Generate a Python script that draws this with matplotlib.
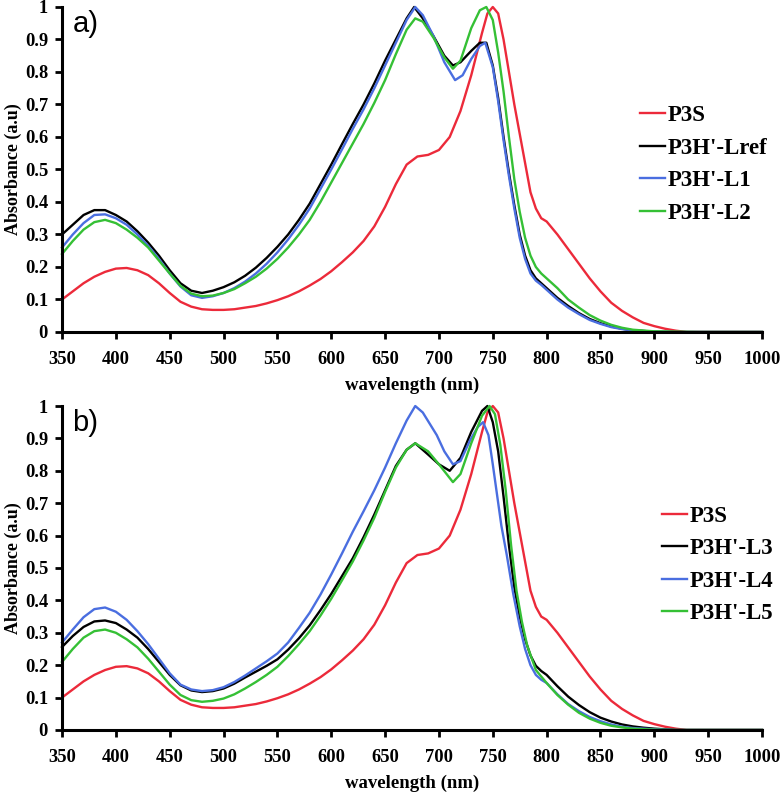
import matplotlib
matplotlib.use('Agg')
import matplotlib.pyplot as plt

plt.rcParams['font.family'] = ['Liberation Serif', 'DejaVu Serif']

# P3S is the same reference film in both panels
p3s = [(350, 0.10), (360, 0.125), (370, 0.15), (380, 0.17), (390, 0.185), (400, 0.195), (410, 0.197),
       (420, 0.19), (430, 0.175), (440, 0.15), (450, 0.12), (460, 0.093), (470, 0.078), (480, 0.07),
       (490, 0.068), (500, 0.068), (510, 0.07), (520, 0.075), (530, 0.08), (540, 0.088), (550, 0.098),
       (560, 0.11), (570, 0.125), (580, 0.143), (590, 0.163), (600, 0.187), (610, 0.215), (620, 0.245),
       (630, 0.28), (640, 0.325), (650, 0.385), (660, 0.455), (670, 0.515), (680, 0.54), (690, 0.545),
       (700, 0.56), (710, 0.60), (720, 0.68), (730, 0.79), (740, 0.92), (745, 0.98), (750, 1.0),
       (755, 0.98), (760, 0.90), (765, 0.80), (770, 0.70), (775, 0.61), (780, 0.52), (785, 0.43),
       (790, 0.38), (795, 0.35), (800, 0.34), (810, 0.30), (820, 0.255), (830, 0.21), (840, 0.165),
       (850, 0.125), (860, 0.09), (870, 0.065), (880, 0.045), (890, 0.028), (900, 0.018), (910, 0.01),
       (920, 0.004), (930, 0.0), (1000, 0.0)]

lref = [(350, 0.30), (360, 0.33), (370, 0.36), (380, 0.375), (390, 0.375), (400, 0.36), (410, 0.34),
        (420, 0.31), (430, 0.275), (440, 0.235), (450, 0.19), (460, 0.15), (470, 0.127), (480, 0.12),
        (490, 0.127), (500, 0.138), (510, 0.153), (520, 0.173), (530, 0.198), (540, 0.228), (550, 0.262),
        (560, 0.30), (570, 0.345), (580, 0.395), (590, 0.455), (600, 0.515), (610, 0.578), (620, 0.64),
        (630, 0.70), (640, 0.765), (650, 0.835), (660, 0.90), (670, 0.965), (677, 1.0), (685, 0.965),
        (695, 0.91), (705, 0.85), (713, 0.82), (720, 0.83), (730, 0.865), (738, 0.89), (744, 0.89),
        (750, 0.82), (755, 0.72), (760, 0.60), (765, 0.49), (770, 0.39), (775, 0.30), (780, 0.235),
        (785, 0.19), (790, 0.165), (795, 0.15), (800, 0.135), (810, 0.105), (820, 0.08), (830, 0.058),
        (840, 0.04), (850, 0.027), (860, 0.017), (870, 0.01), (880, 0.005), (900, 0.001), (920, 0.0),
        (1000, 0.0)]

l1 = [(350, 0.26), (360, 0.30), (370, 0.335), (380, 0.36), (390, 0.362), (400, 0.35), (410, 0.33),
      (420, 0.30), (430, 0.265), (440, 0.225), (450, 0.18), (460, 0.14), (470, 0.113), (480, 0.105),
      (490, 0.11), (500, 0.12), (510, 0.135), (520, 0.155), (530, 0.18), (540, 0.21), (550, 0.245),
      (560, 0.285), (570, 0.33), (580, 0.38), (590, 0.44), (600, 0.50), (610, 0.562), (620, 0.625),
      (630, 0.685), (640, 0.75), (650, 0.82), (660, 0.89), (670, 0.96), (678, 1.0), (685, 0.975),
      (695, 0.91), (705, 0.83), (715, 0.775), (722, 0.79), (730, 0.84), (738, 0.88), (743, 0.89),
      (750, 0.815), (755, 0.71), (760, 0.59), (765, 0.48), (770, 0.38), (775, 0.29), (780, 0.225),
      (785, 0.18), (790, 0.158), (795, 0.145), (800, 0.13), (810, 0.10), (820, 0.075), (830, 0.055),
      (840, 0.037), (850, 0.025), (860, 0.015), (870, 0.009), (880, 0.005), (900, 0.001), (920, 0.0),
      (1000, 0.0)]

l2 = [(350, 0.24), (360, 0.28), (370, 0.315), (380, 0.338), (390, 0.345), (400, 0.335), (410, 0.315),
      (420, 0.29), (430, 0.26), (440, 0.22), (450, 0.18), (460, 0.142), (470, 0.118), (480, 0.11),
      (490, 0.112), (500, 0.12), (510, 0.132), (520, 0.15), (530, 0.17), (540, 0.195), (550, 0.225),
      (560, 0.26), (570, 0.30), (580, 0.345), (590, 0.40), (600, 0.46), (610, 0.52), (620, 0.58),
      (630, 0.64), (640, 0.705), (650, 0.775), (660, 0.855), (670, 0.93), (678, 0.965), (685, 0.955),
      (695, 0.905), (705, 0.845), (713, 0.81), (720, 0.835), (730, 0.935), (738, 0.99), (744, 1.0),
      (750, 0.96), (755, 0.86), (760, 0.74), (765, 0.60), (770, 0.47), (775, 0.37), (780, 0.29),
      (785, 0.235), (790, 0.20), (795, 0.18), (800, 0.165), (810, 0.135), (820, 0.10), (830, 0.075),
      (840, 0.052), (850, 0.035), (860, 0.022), (870, 0.013), (880, 0.007), (900, 0.002), (940, 0.0),
      (1000, 0.0)]

l3 = [(350, 0.256), (360, 0.29), (370, 0.318), (380, 0.335), (390, 0.338), (400, 0.33), (410, 0.31),
      (420, 0.285), (430, 0.25), (440, 0.21), (450, 0.17), (460, 0.138), (470, 0.122), (480, 0.117),
      (490, 0.12), (500, 0.128), (510, 0.143), (520, 0.162), (530, 0.18), (540, 0.198), (550, 0.218),
      (560, 0.248), (570, 0.283), (580, 0.323), (590, 0.37), (600, 0.42), (610, 0.475), (620, 0.53),
      (630, 0.595), (640, 0.665), (650, 0.74), (660, 0.815), (670, 0.865), (678, 0.885), (690, 0.85),
      (700, 0.82), (710, 0.80), (720, 0.84), (730, 0.92), (740, 0.985), (745, 1.0), (750, 0.95),
      (755, 0.86), (760, 0.72), (765, 0.57), (770, 0.44), (775, 0.35), (780, 0.28), (785, 0.23),
      (790, 0.198), (795, 0.182), (800, 0.17), (810, 0.135), (820, 0.103), (830, 0.077), (840, 0.055),
      (850, 0.038), (860, 0.026), (870, 0.017), (880, 0.011), (890, 0.007), (900, 0.004), (920, 0.0),
      (1000, 0.0)]

l4 = [(350, 0.27), (360, 0.31), (370, 0.348), (380, 0.373), (390, 0.378), (400, 0.365), (410, 0.34),
      (420, 0.305), (430, 0.265), (440, 0.22), (450, 0.175), (460, 0.14), (470, 0.125), (480, 0.12),
      (490, 0.123), (500, 0.132), (510, 0.148), (520, 0.168), (530, 0.19), (540, 0.212), (550, 0.236),
      (560, 0.27), (570, 0.315), (580, 0.362), (590, 0.418), (600, 0.48), (610, 0.545), (620, 0.612),
      (630, 0.675), (640, 0.74), (650, 0.81), (660, 0.885), (670, 0.955), (678, 1.0), (685, 0.98),
      (698, 0.91), (705, 0.86), (713, 0.82), (720, 0.83), (729, 0.895), (736, 0.935), (741, 0.95),
      (746, 0.91), (750, 0.82), (754, 0.725), (758, 0.63), (763, 0.54), (769, 0.42), (775, 0.32),
      (780, 0.25), (785, 0.20), (790, 0.17), (795, 0.155), (800, 0.145), (810, 0.11), (820, 0.08),
      (830, 0.058), (840, 0.04), (850, 0.027), (860, 0.017), (870, 0.01), (880, 0.006), (900, 0.002),
      (920, 0.0), (1000, 0.0)]

l5 = [(350, 0.21), (360, 0.25), (370, 0.285), (380, 0.305), (390, 0.31), (400, 0.30), (410, 0.28),
      (420, 0.255), (430, 0.22), (440, 0.18), (450, 0.14), (460, 0.108), (470, 0.092), (480, 0.087),
      (490, 0.09), (500, 0.097), (510, 0.11), (520, 0.128), (530, 0.148), (540, 0.17), (550, 0.195),
      (560, 0.228), (570, 0.265), (580, 0.305), (590, 0.353), (600, 0.405), (610, 0.462), (620, 0.52),
      (630, 0.585), (640, 0.655), (650, 0.735), (660, 0.81), (670, 0.865), (678, 0.885), (690, 0.86),
      (700, 0.82), (713, 0.765), (720, 0.79), (730, 0.885), (740, 0.97), (747, 1.0), (752, 0.975),
      (757, 0.88), (762, 0.74), (767, 0.57), (772, 0.43), (777, 0.335), (782, 0.26), (790, 0.185),
      (800, 0.145), (810, 0.108), (820, 0.078), (830, 0.053), (840, 0.035), (850, 0.022), (860, 0.013),
      (870, 0.008), (880, 0.004), (900, 0.001), (920, 0.0), (1000, 0.0)]

x_ticks = list(range(350, 1001, 50))
y_ticks = [0, 0.1, 0.2, 0.3, 0.4, 0.5, 0.6, 0.7, 0.8, 0.9, 1]
y_tick_labels = ["0", "0.1", "0.2", "0.3", "0.4", "0.5", "0.6", "0.7", "0.8", "0.9", "1"]

red = '#ec2a3a'
blue = '#4a6ee0'
green = '#35c035'

panels = [
    ("a)", [(p3s, "P3S", red), (lref, "P3H'-Lref", 'black'), (l1, "P3H'-L1", blue), (l2, "P3H'-L2", green)],
     [0.0792, 0.5824, 0.894, 0.4088], (0.826, 0.515)),
    ("b)", [(p3s, "P3S", red), (l3, "P3H'-L3", 'black'), (l4, "P3H'-L4", blue), (l5, "P3H'-L5", green)],
     [0.0792, 0.0818, 0.894, 0.4075], (0.857, 0.509)),
]

fig = plt.figure(figsize=(7.83, 7.95), dpi=100)

for tag, series, rect, leg_pos in panels:
    ax = fig.add_axes(rect)
    for data, name, col in series:
        xs = [p[0] for p in data]
        ys = [p[1] for p in data]
        ax.plot(xs, ys, color=col, lw=1.7, label=name, clip_on=False)

    ax.set_xlim(350, 1000)
    ax.set_ylim(0, 1)
    ax.set_xticks(x_ticks)
    ax.set_xticklabels([str(t) for t in x_ticks], fontsize=13.3, fontweight='bold')
    ax.set_yticks(y_ticks)
    ax.set_yticklabels(y_tick_labels, fontsize=13.3, fontweight='bold')
    ax.tick_params(axis='x', direction='out', length=5, width=2, pad=9)
    ax.tick_params(axis='y', direction='out', length=5, width=2, pad=5)

    for s in ['top', 'right']:
        ax.spines[s].set_visible(False)
    for s in ['left', 'bottom']:
        ax.spines[s].set_linewidth(2.2)

    ax.set_xlabel("wavelength (nm)", fontsize=13.5, fontweight='bold', labelpad=6)
    ax.set_ylabel("Absorbance (a.u)", fontsize=13, fontweight='bold', labelpad=2)

    ax.text(0.015, 0.99, tag, transform=ax.transAxes, fontsize=21,
            family='Liberation Sans', va='top', ha='left')

    ax.legend(loc='center left', bbox_to_anchor=leg_pos, frameon=False,
              prop={'size': 16.5, 'weight': 'bold'}, handlelength=1.1,
              handletextpad=0.1, labelspacing=0.5, borderpad=0, borderaxespad=0)

plt.savefig('out.png', dpi=100)
